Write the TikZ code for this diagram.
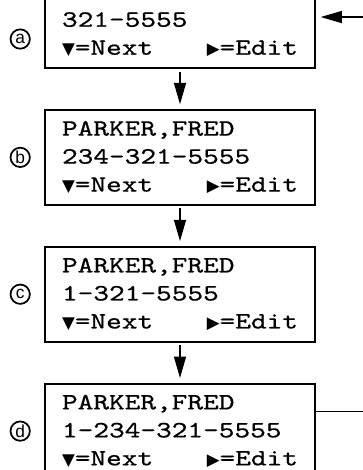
\documentclass[tikz,border=0pt]{standalone}
\usepackage{fontspec}
\usetikzlibrary{positioning,arrows.meta}
\newfontfamily\lcdfont{lmmono10-regular.otf}[FakeStretch=1.28,FakeBold=0.6]
\newfontfamily\symfont{DejaVu Sans}
\newfontfamily\tagfont{Liberation Sans}
\newcommand{\dnkey}{{\symfont\fontsize{12.5pt}{12.5pt}\selectfont ▼}}
\newcommand{\rtkey}{{\symfont\fontsize{12.5pt}{12.5pt}\selectfont ▶}}

\begin{document}
\begin{tikzpicture}[x=0.75pt, y=-0.75pt,
  screen/.style={draw, line width=1.4pt, align=left, text width=177pt, inner xsep=12.75pt, inner ysep=0pt,
    minimum height=71.25pt, font=\lcdfont\fontsize{17.5pt}{21pt}\selectfont},
  lettertag/.style={draw, circle, line width=1.3pt, inner sep=0pt, minimum size=14.5pt, font=\tagfont\fontsize{13pt}{13pt}\selectfont},
  node distance=30pt, >={Triangle[width=9pt,length=16pt]}]
\useasboundingbox (0,0) rectangle (363,470);
\clip (0,0) rectangle (363,470);
\node[screen] (sa) at (180,20.5) {\phantom{PARKER,FRED}\\321-5555\\\dnkey=Next\hfill\rtkey=Edit};
\node[screen, below=of sa] (sb) {PARKER,FRED\\234-321-5555\\\dnkey=Next\hfill\rtkey=Edit};
\node[screen, below=of sb] (sc) {PARKER,FRED\\1-321-5555\\\dnkey=Next\hfill\rtkey=Edit};
\node[screen, below=of sc] (sd) {PARKER,FRED\\1-234-321-5555\\\dnkey=Next\hfill\rtkey=Edit};
\node[lettertag, left=10pt of sa.west, yshift=-13.9pt] (ta) {a};
\node[lettertag, left=10pt of sb.west] (tb) {b};
\node[lettertag, left=10pt of sc.west] (tc) {c};
\node[lettertag, left=10pt of sd.west] (td) {d};
\draw[->, line width=1pt, shorten <=2pt, shorten >=3.5pt] (sa) -- (sb);
\draw[->, line width=1pt, shorten <=2pt, shorten >=3.5pt] (sb) -- (sc);
\draw[->, line width=1pt, shorten <=2pt, shorten >=3.5pt] (sc) -- (sd);
\draw[->, line width=1pt, shorten >=3.5pt] ([yshift=14.6pt]sd.east) -- ++(45pt,0) |- ([yshift=2.6pt]sa.east);
\end{tikzpicture}
\end{document}
